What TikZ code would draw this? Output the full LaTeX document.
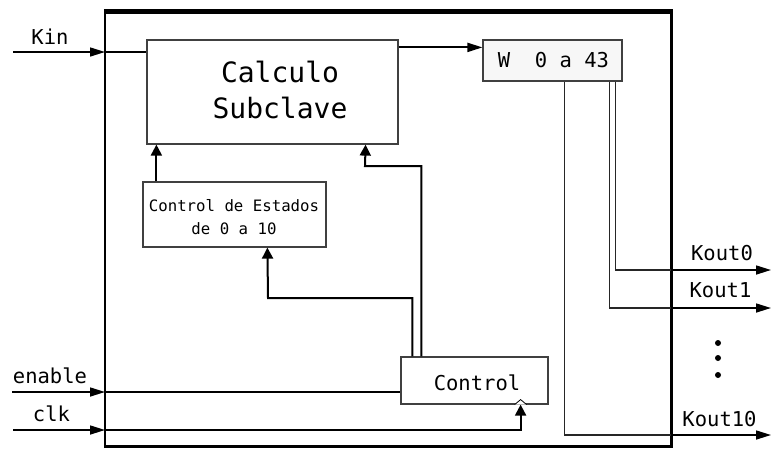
\documentclass[tikz,border=0pt]{standalone}
\usepackage{fontspec}
\setmainfont{DejaVu Sans Mono}
\usetikzlibrary{arrows.meta}

\begin{document}
\begin{tikzpicture}[x=1pt,y=-1pt,
  blk/.style={draw=black!75,line width=1.2pt,inner sep=0pt},
  wire/.style={line width=2pt},
  sig/.style={wire,-{Triangle[length=15pt,width=9pt]}},
  upsig/.style={wire,-{Triangle[length=11pt,width=11pt]}},
  bus/.style={line width=1.3pt,draw=black!85},
  lbl/.style={anchor=base,font=\fontsize{20.5}{24}\selectfont}]
\useasboundingbox (0,0) rectangle (771,448);
\node[draw,line width=2.5pt,minimum width=566.3pt,minimum height=434.2pt] (chip) at (388.2,229.6) {};
\draw[line width=5pt] (chip.north west) -- (chip.north east);
\node[blk,minimum width=251pt,minimum height=104pt] (calc) at (272.5,92) {};
\node[blk,fill=black!3,minimum width=139pt,minimum height=41pt] (wbox) at (552.5,60.5) {};
\node[blk,minimum width=183pt,minimum height=65pt] (est) at (234.5,214.5) {};
\node[blk,minimum width=147pt,minimum height=47pt] (ctrl) at (474.5,380.5) {};
\node[lbl,font=\fontsize{28}{32}\selectfont] (calcA) at (280,82) {Calculo};
\node[lbl,font=\fontsize{28}{32}\selectfont] (calcB) at (280,118) {Subclave};
\node[lbl] (wtxt) at (553.5,67) {W~~0 a 43};
\node[lbl,font=\fontsize{15.7}{18}\selectfont] (estA) at (234,211.5) {Control de Estados};
\node[lbl,font=\fontsize{15.7}{18}\selectfont] (estB) at (234,234) {de 0 a 10};
\node[lbl] (ctxt) at (477,390) {Control};
\coordinate (kin) at (13,52); \coordinate (kinp) at (105,52);
\coordinate (en) at (12,392); \coordinate (enp) at (105,392);
\coordinate (clk) at (13,430); \coordinate (clkp) at (105,430);
\draw[sig,line width=1.6pt] (kin) -- (kinp);
\draw[wire] (kinp) -- (kinp -| calc.west);
\draw[sig,line width=1.6pt] (en) -- (enp);
\draw[wire] (enp) -- (enp -| ctrl.west);
\draw[sig,line width=1.6pt] (clk) -- (clkp);
\coordinate (c4) at ([xshift=-28pt]ctrl.south east);
\draw[upsig] (clkp) -| (c4);
\draw[fill=white,line width=0.8pt] ([xshift=-6pt]c4) -- ([yshift=5pt]c4) -- ([xshift=6pt]c4);
\node[lbl] (kinl) at (50,44) {Kin};
\node[lbl] (enl) at (50,383) {enable};
\node[lbl] (clkl) at (51.5,421) {clk};
\coordinate (cw) at ([yshift=-8pt]calc.north east);
\draw[sig] (cw) -- (cw -| wbox.west);
\coordinate (e1) at ([xshift=14pt]est.north west);
\draw[upsig] (e1) -- (e1 |- calc.south);
\coordinate (c1) at ([xshift=21pt]ctrl.north west);
\coordinate (c2) at ([xshift=-33pt]calc.south east);
\draw[upsig] (c1) |- (365,166) -- (c2);
\coordinate (c3) at ([xshift=12pt]ctrl.north west);
\coordinate (e2) at ([xshift=125pt]est.south west);
\draw[upsig] (c3) |- (268,298) -- (e2);
\coordinate (w0) at ([xshift=-7pt]wbox.south east);
\coordinate (w1) at ([xshift=-13pt]wbox.south east);
\coordinate (w10) at ([xshift=-58pt]wbox.south east);
\coordinate (o0) at (671,270); \coordinate (k0) at (771,270);
\coordinate (o1) at (671,308); \coordinate (k1) at (771,308);
\coordinate (o10) at (671,435); \coordinate (k10) at (771,435);
\draw[bus] (w0) |- (o0);
\draw[bus] (w1) |- (o1);
\draw[bus] (w10) |- (o10);
\draw[sig,line width=1.6pt] (o0) -- (k0);
\draw[sig,line width=1.6pt] (o1) -- (k1);
\draw[sig,line width=1.6pt] (o10) -- (k10);
\node[lbl] (k0l) at (722,260) {Kout0};
\node[lbl] (k1l) at (720.5,297) {Kout1};
\node[lbl] (k10l) at (719.5,426) {Kout10};
\foreach \y in {343,358,375} \fill (718,\y) circle (3pt);
\end{tikzpicture}
\end{document}
